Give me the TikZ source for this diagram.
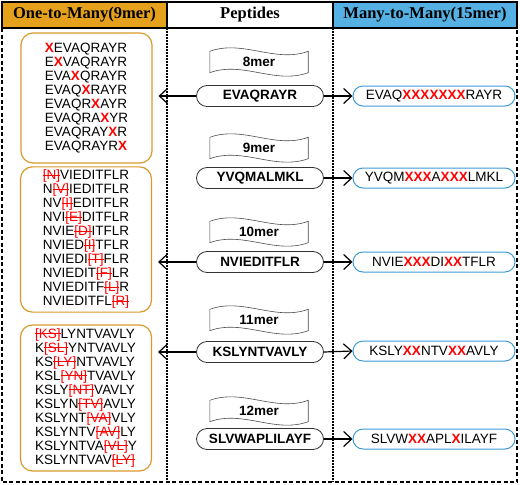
\documentclass[tikz,border=0pt]{standalone}
\usepackage{fontspec}
\setmainfont{Liberation Sans}
\newfontfamily\headfont{Liberation Serif}
\usepackage{xcolor}
\usetikzlibrary{arrows.meta,shapes,positioning}

\definecolor{headorange}{HTML}{E6A11C}
\definecolor{headblue}{HTML}{55B0E3}
\definecolor{boxorange}{HTML}{D99A2B}
\definecolor{pillblue}{HTML}{3E9AD5}

\newsavebox{\delbox}
\newcommand{\rx}{\textcolor{red}{\textbf{X}}}
\newcommand{\rxs}[1]{\textcolor{red}{\textbf{#1}}}
\newcommand{\del}[1]{\textcolor{red}{\sbox{\delbox}{[#1]}%
  \rlap{\rule[0.3em]{\wd\delbox}{0.09em}}\usebox{\delbox}}}

\tikzset{
  head/.style={draw, line width=1.5pt, minimum height=26, inner sep=0,
    font=\headfont\fontsize{16.5}{18}\selectfont\bfseries},
  varbox/.style={draw=boxorange, line width=1.2pt, rounded corners=12pt,
    minimum width=131, align=left, font=\fontsize{13.5}{14}\selectfont},
  pep/.style={draw=black!80, rounded rectangle, line width=0.8pt, fill=white,
    minimum width=127, minimum height=21, inner sep=0,
    font=\fontsize{13.5}{15}\selectfont\bfseries},
  len/.style={minimum width=98, minimum height=21, inner sep=0,
    font=\fontsize{13.5}{15}\selectfont\bfseries},
  banner/.style={draw=gray!60!black, line width=0.6pt},
  many/.style={draw=pillblue, rounded rectangle, line width=1pt,
    minimum width=162, minimum height=20, inner sep=0,
    font=\fontsize{13.5}{15}\selectfont}
}

\begin{document}
\begin{tikzpicture}[x=1pt, y=-1pt, >={Straight Barb[length=8pt,width=15pt]}]
\useasboundingbox (0,0) rectangle (520,485);

% header
\node[head, fill=headorange, minimum width=165] (h1) at (84.5,15) {One-to-Many(9mer)};
\node[head, fill=white, minimum width=166] (h2) at (250,15) {Peptides};
\node[head, fill=headblue, minimum width=184] (h3) at (425,15) {Many-to-Many(15mer)};

% frame
\draw[dash pattern=on 1.5pt off 1.5pt, line width=1.1pt] (167,28) -- (167,482);
\draw[dash pattern=on 1.5pt off 1.5pt, line width=1.1pt] (333,28) -- (333,482);
\draw[dash pattern=on 4pt off 2.5pt, line width=1.6pt] (2,2) rectangle (517,482);

% one-to-many
\node[varbox, minimum height=130] (var8) at (86.5,98) {%
\rx EVAQRAYR\\
E\rx VAQRAYR\\
EVA\rx QRAYR\\
EVAQ\rx RAYR\\
EVAQR\rx AYR\\
EVAQRA\rx YR\\
EVAQRAY\rx R\\
EVAQRAYR\rx};
\node[varbox, minimum height=143] (var10) at (86,239.5) {%
\del{N}VIEDITFLR\\
N\del{V}IEDITFLR\\
NV\del{I}EDITFLR\\
NVI\del{E}DITFLR\\
NVIE\del{D}ITFLR\\
NVIED\del{I}TFLR\\
NVIEDI\del{T}FLR\\
NVIEDIT\del{F}LR\\
NVIEDITF\del{L}R\\
NVIEDITFL\del{R}};
\node[varbox, minimum height=146] (var11) at (86,398) {%
\del{KS}LYNTVAVLY\\
K\del{SL}YNTVAVLY\\
KS\del{LY}NTVAVLY\\
KSL\del{YN}TVAVLY\\
KSLY\del{NT}VAVLY\\
KSLYN\del{TV}AVLY\\
KSLYNT\del{VA}VLY\\
KSLYNTV\del{AV}LY\\
KSLYNTVA\del{VL}Y\\
KSLYNTVAV\del{LY}};

% peptides
\node[len] (len8) at (259,62) {8mer};
\node[pep] (pep8) at (260,96) {EVAQRAYR};
\node[len] (len9) at (259,148) {9mer};
\node[pep] (pep9) at (260,178) {YVQMALMKL};
\node[len] (len10) at (259,232) {10mer};
\node[pep] (pep10) at (260,262) {NVIEDITFLR};
\node[len] (len11) at (259,320) {11mer};
\node[pep] (pep11) at (260,352) {KSLYNTVAVLY};
\node[len] (len12) at (259,411) {12mer};
\node[pep] (pep12) at (260,439) {SLVWAPLILAYF};

% wavy banners
\foreach \n in {len8,len9,len10,len11,len12}
  \draw[banner] (\n.north west) .. controls +(33,-12) and +(-33,12) .. (\n.north east)
    -- (\n.south east) .. controls +(-33,12) and +(33,-12) .. (\n.south west) -- cycle;

% many-to-many
\node[many] (many8) at (434,96) {EVAQ\rxs{XXXXXXX}RAYR};
\node[many] (many9) at (434,178) {YVQM\rxs{XXX}A\rxs{XXX}LMKL};
\node[many] (many10) at (434,262) {NVIE\rxs{XXX}DI\rxs{XX}TFLR};
\node[many] (many11) at (434,351) {KSLY\rxs{XX}NTV\rxs{XX}AVLY};
\node[many] (many12) at (434,439) {SLVW\rxs{XX}APL\rxs{X}ILAYF};

% arrows
\draw[->, line width=1.2pt, shorten >=6pt] (pep8.west) -- (pep8.west -| var8.east);
\draw[->, line width=1.2pt, shorten >=6pt] (pep10.west) -- (pep10.west -| var10.east);
\draw[->, line width=1.2pt, shorten >=6pt] (pep11.west) -- (pep11.west -| var11.east);
\draw[->, line width=1.2pt] (pep8.east) -- (many8.west);
\draw[->, line width=1.2pt] (pep9.east) -- (many9.west);
\draw[->, line width=1.2pt] (pep10.east) -- (many10.west);
\draw[->, line width=1.2pt] (pep11.east) -- (many11.west);
\draw[->, line width=1.2pt] (pep12.east) -- (many12.west);
\end{tikzpicture}
\end{document}
